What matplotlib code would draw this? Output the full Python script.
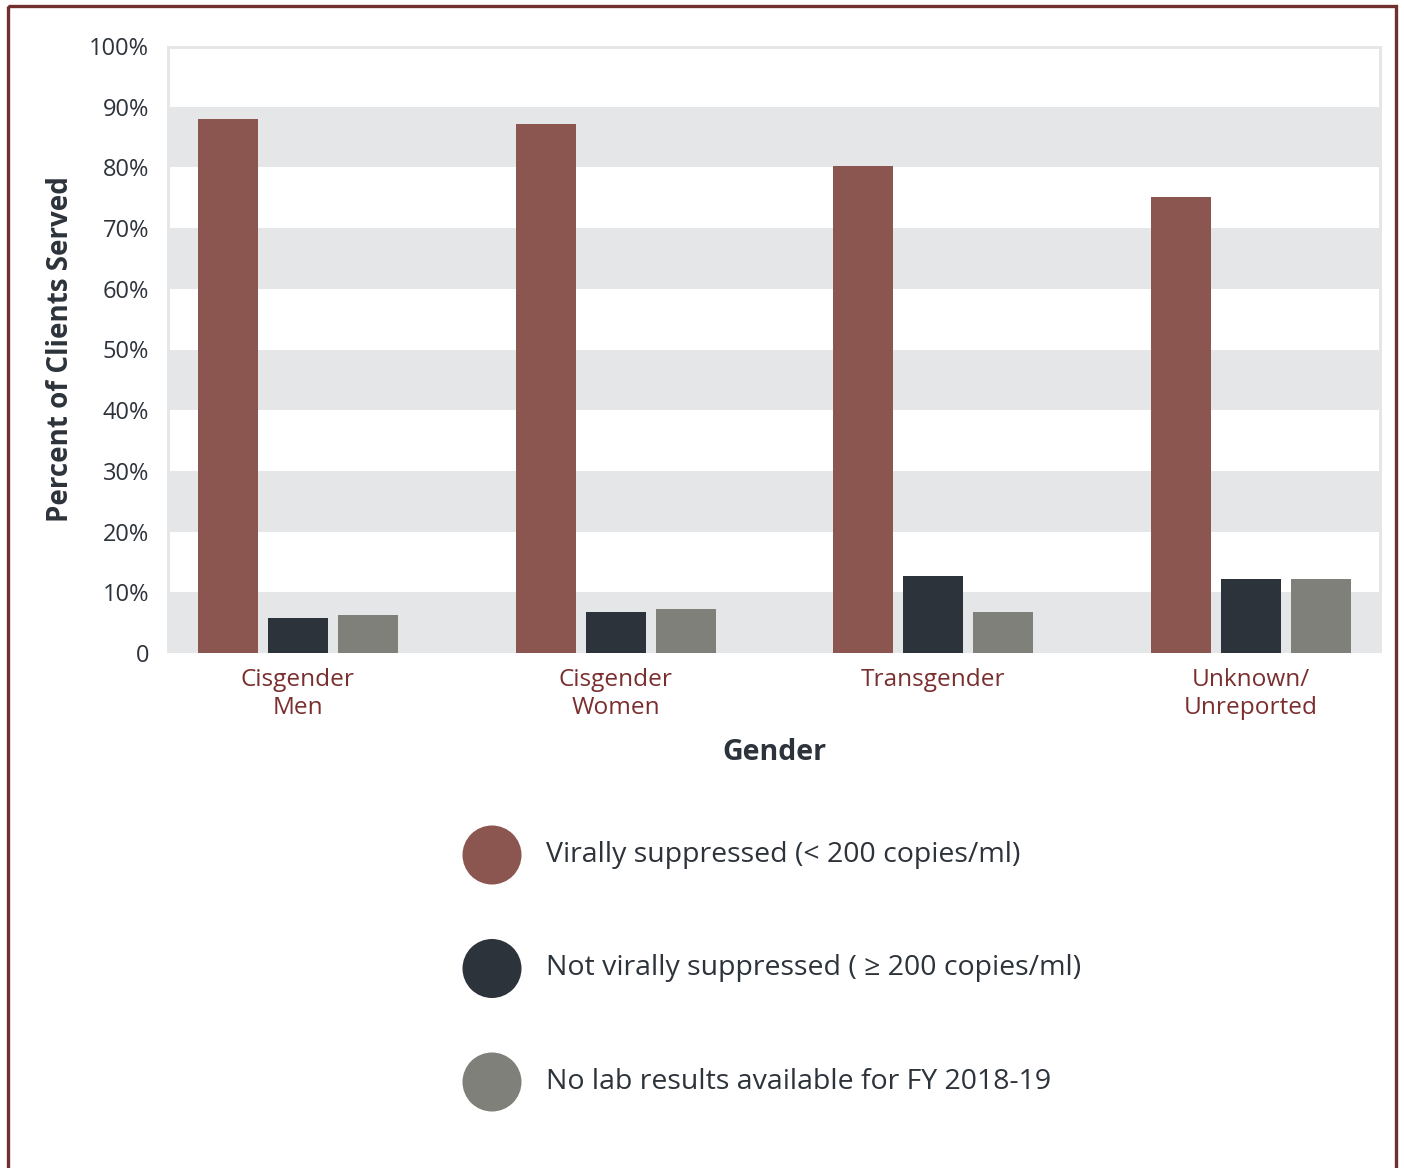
import numpy as np
import matplotlib
matplotlib.use("Agg")
import matplotlib.pyplot as plt
from matplotlib.patches import Rectangle, Circle

plt.rcParams['font.family'] = ['Open Sans', 'DejaVu Sans']

categories = ["Cisgender\nMen", "Cisgender\nWomen", "Transgender", "Unknown/\nUnreported"]
suppressed = [88.0, 87.1, 80.2, 75.2]
not_suppressed = [5.8, 6.8, 12.7, 12.2]
no_results = [6.3, 7.3, 6.8, 12.2]
series_labels = ["Virally suppressed (< 200 copies/ml)",
                 "Not virally suppressed ( \u2265 200 copies/ml)",
                 "No lab results available for FY 2018-19"]
yticks = [0, 10, 20, 30, 40, 50, 60, 70, 80, 90, 100]
ytick_labels = ["0"] + [f"{v}%" for v in yticks[1:]]

RED = "#8b5650"
DARK = "#2d333b"
GRAY = "#7f8079"
BAND = "#e5e6e8"
MAROON = "#7a2e2e"
TEXT = "#2d333b"

W, H = 1404, 1168
fig = plt.figure(figsize=(W / 100, H / 100), dpi=100)
fig.patch.set_facecolor("white")

ax = fig.add_axes([167 / W, 1 - 653 / H, 1215 / W, 607 / H])
ax.set_facecolor(BAND)
ax.set_xlim(-0.412, 3.412)
ax.set_ylim(0, 100)

# white bands between the grey ones, slightly inset so the grey shows as a frame
inset = 3 / 1215
for lo in range(10, 100, 20):
    hi = lo + 10 if lo + 10 < 100 else 99.5
    ax.axhspan(lo, hi, xmin=inset, xmax=1 - inset, color="white", lw=0, zorder=0)

x = np.arange(len(categories))
bw = 0.189
step = 0.22
series = [suppressed, not_suppressed, no_results]
colors = [RED, DARK, GRAY]
for i, (vals, c) in enumerate(zip(series, colors)):
    ax.bar(x + (i - 1) * step, vals, width=bw, color=c, zorder=2, linewidth=0)

for s in ax.spines.values():
    s.set_visible(False)
ax.set_yticks(yticks)
ax.set_yticklabels(ytick_labels, fontsize=17, color=TEXT)
ax.set_xticks(x)
ax.set_xticklabels(categories, fontsize=17.6, color=MAROON, linespacing=1.22)
ax.tick_params(axis="both", length=0)
ax.tick_params(axis="y", pad=13)
ax.tick_params(axis="x", pad=11)
ax.set_ylabel("Percent of Clients Served", fontsize=20, fontweight="bold",
              color=TEXT, labelpad=10)
ax.set_xlabel("Gender", fontsize=20.5, fontweight="bold", color=TEXT, labelpad=13)

# legend drawn on an overlay in pixel units
lax = fig.add_axes([0, 0, 1, 1])
lax.set_xlim(0, W)
lax.set_ylim(H, 0)
lax.axis("off")
for k, (lab, c) in enumerate(zip(series_labels, colors)):
    cy = 855 + k * 113.5
    lax.add_patch(Circle((492, cy), 29.5, color=c, lw=0))
    lax.text(546, cy, lab, fontsize=20.5, color=TEXT, va="center", ha="left")

# outer maroon frame, open at the bottom
lax.add_patch(Rectangle((8, 6), 1388, 1200, fill=False, edgecolor="#722f2f",
                        lw=2.4, clip_on=False))

fig.savefig("out.png", dpi=100)
